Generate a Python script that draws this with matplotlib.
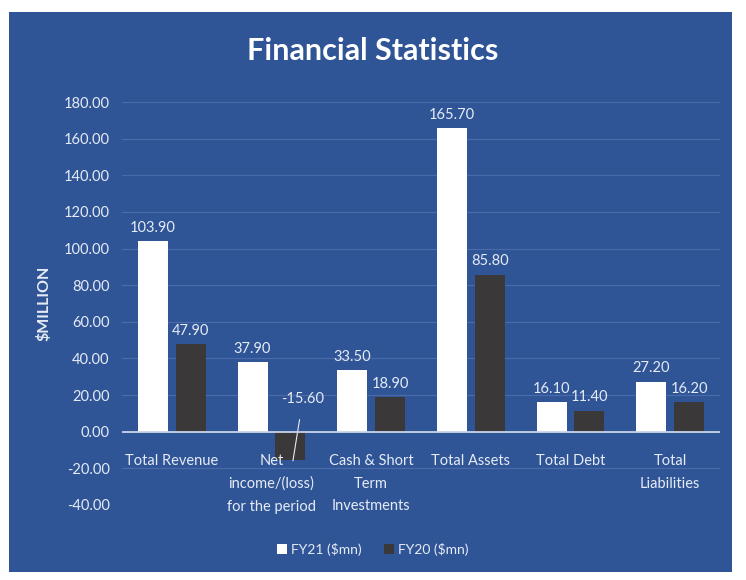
import matplotlib
matplotlib.use("Agg")
import matplotlib.pyplot as plt
import numpy as np
from matplotlib.patches import Rectangle

categories = ["Total Revenue", "Net\nincome/(loss)\nfor the period", "Cash & Short\nTerm\nInvestments",
              "Total Assets", "Total Debt", "Total\nLiabilities"]
fy21 = [103.90, 37.90, 33.50, 165.70, 16.10, 27.20]
fy20 = [47.90, -15.60, 18.90, 85.80, 11.40, 16.20]
yticks = [-40, -20, 0, 20, 40, 60, 80, 100, 120, 140, 160, 180]
series_names = ["FY21 ($mn)", "FY20 ($mn)"]

plt.rcParams['font.family'] = ['Lato', 'DejaVu Sans']

BLUE = "#2f5597"
TXT = "#e6ebf5"
DARK = "#3a3838"

fig = plt.figure(figsize=(7.46, 5.8), dpi=100)
fig.patch.set_facecolor("white")
bg = fig.add_axes([0, 0, 1, 1], zorder=-10)
bg.set_axis_off()
bg.set_xlim(0, 746)
bg.set_ylim(580, 0)
bg.add_patch(Rectangle((9, 12), 732 - 9, 572 - 12, facecolor=BLUE, edgecolor="none"))

ax = fig.add_axes([122/746, 1-505/580, (720-122)/746, (505-102)/580])
ax.set_facecolor("none")
x = np.arange(len(categories))
w = 0.30
gap = 0.08
off = (w + gap) / 2
b1 = ax.bar(x - off, fy21, w, color="white", label=series_names[0], zorder=3)
b2 = ax.bar(x + off, fy20, w, color=DARK, label=series_names[1], zorder=3)

ax.set_xlim(-0.5, len(categories) - 0.5)
ax.set_ylim(-40, 180)
ax.set_yticks(yticks)
ax.set_yticklabels([f"{v:.2f}" for v in yticks], color=TXT, fontsize=10.5)
ax.tick_params(axis="y", length=0, pad=9)
ax.set_xticks([])
for s in ax.spines.values():
    s.set_visible(False)
ax.grid(axis="y", color="#4a6aa8", linewidth=0.9, zorder=0)
ax.axhline(0, color="#c9d3e8", linewidth=1.3, zorder=4)

for i, v in enumerate(fy21):
    ax.text(x[i] - off, v + 3.5, f"{v:.2f}", ha="center", va="bottom", color=TXT, fontsize=10.5)
for i, v in enumerate(fy20):
    if v >= 0:
        ax.text(x[i] + off, v + 3.5, f"{v:.2f}", ha="center", va="bottom", color=TXT, fontsize=10.5)
    else:
        ax.annotate(f"{v:.2f}", xy=(x[i] + off + 0.025, -15.9), xytext=(x[i] + off + 0.125, 18),
                    ha="center", va="center", color=TXT, fontsize=10.5,
                    arrowprops=dict(arrowstyle="-", color=TXT, lw=0.8, shrinkA=8, shrinkB=0))

for i, c in enumerate(categories):
    ax.text(x[i], -12.0, c, ha="center", va="top", color=TXT, fontsize=10.5, linespacing=1.8, zorder=5)

ax.set_ylabel("$MILLION", color=TXT, fontsize=11.5, fontweight="bold", labelpad=9)

fig.text(0.5, 1-51/580, "Financial Statistics", ha="center", va="center", color="white",
         fontsize=22, fontweight="bold")

fig.legend(handles=[b1, b2], labels=series_names, loc="center", bbox_to_anchor=(0.5, 1-549/580),
           ncol=2, frameon=False, fontsize=10, labelcolor=TXT, handlelength=0.7, handleheight=0.7,
           handletextpad=0.3, columnspacing=1.6)

fig.savefig("out.png", dpi=100)
